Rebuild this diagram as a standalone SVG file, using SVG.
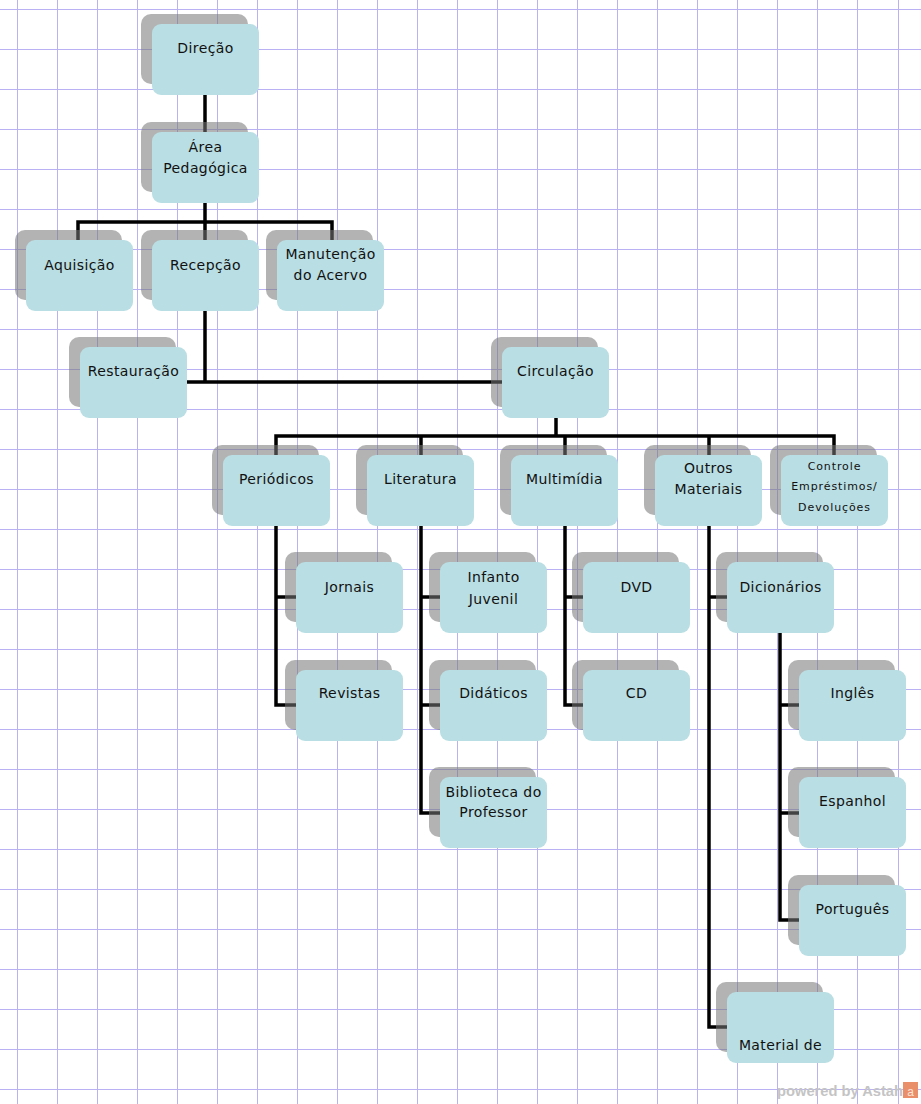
<svg xmlns="http://www.w3.org/2000/svg" width="921" height="1104" viewBox="0 0 921 1104">
<style>
.grid{stroke:#b9b1f4;stroke-width:1;fill:none}
.cn{stroke:#000;stroke-width:3.5;fill:none;stroke-linejoin:miter}
.sh{fill:#777;fill-opacity:0.56}
.bx{fill:#b9dee3}
text{font-family:"DejaVu Sans","Verdana",sans-serif;font-size:14px;letter-spacing:0.4px;fill:#111;text-anchor:middle}
.sm{font-size:11px;letter-spacing:0.9px}
.logo{font-family:"Liberation Sans",Arial,sans-serif;font-weight:bold;font-size:14px;fill:#c4c4c4;text-anchor:start;letter-spacing:0}
</style>
<rect x="0" y="0" width="921" height="1104" fill="#fff"/>
<g id="grid">
<path class="grid" d="M17.5 0V1104M57.5 0V1104M97.5 0V1104M137.5 0V1104M177.5 0V1104M217.5 0V1104M257.5 0V1104M297.5 0V1104M337.5 0V1104M377.5 0V1104M417.5 0V1104M457.5 0V1104M497.5 0V1104M537.5 0V1104M577.5 0V1104M617.5 0V1104M657.5 0V1104M697.5 0V1104M737.5 0V1104M777.5 0V1104M817.5 0V1104M857.5 0V1104M898.5 0V1104"/>
<path class="grid" d="M0 9.5H921M0 49.5H921M0 89.5H921M0 129.5H921M0 169.5H921M0 209.5H921M0 249.5H921M0 289.5H921M0 329.5H921M0 369.5H921M0 409.5H921M0 449.5H921M0 489.5H921M0 529.5H921M0 569.5H921M0 609.5H921M0 649.5H921M0 689.5H921M0 729.5H921M0 769.5H921M0 809.5H921M0 849.5H921M0 889.5H921M0 929.5H921M0 969.5H921M0 1009.5H921M0 1049.5H921M0 1089.5H921"/>
</g>
<g id="connectors">
<path class="cn" d="M205 95V132"/>
<path class="cn" d="M205 203V240M78 240V222H332V240"/>
<path class="cn" d="M205 311V382M187 382H502"/>
<path class="cn" d="M556 418V436M276 455V436H834V455M421 436V455M565 436V455M709 436V455"/>
<path class="cn" d="M276 526V705H296M276 597H296"/>
<path class="cn" d="M421 526V813H440M421 597H440M421 705H440"/>
<path class="cn" d="M565 526V705H583M565 597H583"/>
<path class="cn" d="M709 526V1027H727M709 597H727"/>
<path class="cn" d="M780 633V920H799M780 705H799M780 813H799"/>
</g>
<g id="direcao"><rect class="sh" x="141" y="14" width="107" height="70" rx="10"/><rect class="bx" x="152" y="24" width="107" height="71" rx="9"/><text x="205.5" y="53">Direção</text></g>
<g id="area-pedagogica"><rect class="sh" x="141" y="122" width="107" height="70" rx="10"/><rect class="bx" x="152" y="132" width="107" height="71" rx="9"/><text x="205.5" y="152">Área</text><text x="205.5" y="173">Pedagógica</text></g>
<g id="aquisicao"><rect class="sh" x="15" y="230" width="107" height="70" rx="10"/><rect class="bx" x="26" y="240" width="107" height="71" rx="9"/><text x="79.5" y="270">Aquisição</text></g>
<g id="recepcao"><rect class="sh" x="141" y="230" width="107" height="70" rx="10"/><rect class="bx" x="152" y="240" width="107" height="71" rx="9"/><text x="205.5" y="270">Recepção</text></g>
<g id="manutencao"><rect class="sh" x="266" y="230" width="107" height="70" rx="10"/><rect class="bx" x="277" y="240" width="107" height="71" rx="9"/><text x="330.5" y="259">Manutenção</text><text x="330.5" y="280">do Acervo</text></g>
<g id="restauracao"><rect class="sh" x="69" y="337" width="107" height="70" rx="10"/><rect class="bx" x="80" y="347" width="107" height="71" rx="9"/><text x="133.5" y="376">Restauração</text></g>
<g id="circulacao"><rect class="sh" x="491" y="337" width="107" height="70" rx="10"/><rect class="bx" x="502" y="347" width="107" height="71" rx="9"/><text x="555.5" y="376">Circulação</text></g>
<g id="periodicos"><rect class="sh" x="212" y="445" width="107" height="70" rx="10"/><rect class="bx" x="223" y="455" width="107" height="71" rx="9"/><text x="276.5" y="484">Periódicos</text></g>
<g id="literatura"><rect class="sh" x="356" y="445" width="107" height="70" rx="10"/><rect class="bx" x="367" y="455" width="107" height="71" rx="9"/><text x="420.5" y="484">Literatura</text></g>
<g id="multimidia"><rect class="sh" x="500" y="445" width="107" height="70" rx="10"/><rect class="bx" x="511" y="455" width="107" height="71" rx="9"/><text x="564.5" y="484">Multimídia</text></g>
<g id="outros-materiais"><rect class="sh" x="644" y="445" width="107" height="70" rx="10"/><rect class="bx" x="655" y="455" width="107" height="71" rx="9"/><text x="708.5" y="473">Outros</text><text x="708.5" y="494">Materiais</text></g>
<g id="controle"><rect class="sh" x="770" y="445" width="107" height="70" rx="10"/><rect class="bx" x="781" y="455" width="107" height="71" rx="9"/><text class="sm" x="834.5" y="469.5">Controle</text><text class="sm" x="834.5" y="490">Empréstimos/</text><text class="sm" x="834.5" y="511">Devoluções</text></g>
<g id="jornais"><rect class="sh" x="285" y="552" width="107" height="70" rx="10"/><rect class="bx" x="296" y="562" width="107" height="71" rx="9"/><text x="349.5" y="592">Jornais</text></g>
<g id="revistas"><rect class="sh" x="285" y="660" width="107" height="70" rx="10"/><rect class="bx" x="296" y="670" width="107" height="71" rx="9"/><text x="349.5" y="698">Revistas</text></g>
<g id="infanto-juvenil"><rect class="sh" x="429" y="552" width="107" height="70" rx="10"/><rect class="bx" x="440" y="562" width="107" height="71" rx="9"/><text x="493.5" y="582">Infanto</text><text x="493.5" y="604">Juvenil</text></g>
<g id="didaticos"><rect class="sh" x="429" y="660" width="107" height="70" rx="10"/><rect class="bx" x="440" y="670" width="107" height="71" rx="9"/><text x="493.5" y="698">Didáticos</text></g>
<g id="biblioteca"><rect class="sh" x="429" y="767" width="107" height="70" rx="10"/><rect class="bx" x="440" y="777" width="107" height="71" rx="9"/><text x="493.5" y="797">Biblioteca do</text><text x="493.5" y="817">Professor</text></g>
<g id="dvd"><rect class="sh" x="572" y="552" width="107" height="70" rx="10"/><rect class="bx" x="583" y="562" width="107" height="71" rx="9"/><text x="636.5" y="592">DVD</text></g>
<g id="cd"><rect class="sh" x="572" y="660" width="107" height="70" rx="10"/><rect class="bx" x="583" y="670" width="107" height="71" rx="9"/><text x="636.5" y="698">CD</text></g>
<g id="dicionarios"><rect class="sh" x="716" y="552" width="107" height="70" rx="10"/><rect class="bx" x="727" y="562" width="107" height="71" rx="9"/><text x="780.5" y="592">Dicionários</text></g>
<g id="ingles"><rect class="sh" x="788" y="660" width="107" height="70" rx="10"/><rect class="bx" x="799" y="670" width="107" height="71" rx="9"/><text x="852.5" y="698">Inglês</text></g>
<g id="espanhol"><rect class="sh" x="788" y="767" width="107" height="70" rx="10"/><rect class="bx" x="799" y="777" width="107" height="71" rx="9"/><text x="852.5" y="806">Espanhol</text></g>
<g id="portugues"><rect class="sh" x="788" y="875" width="107" height="70" rx="10"/><rect class="bx" x="799" y="885" width="107" height="71" rx="9"/><text x="852.5" y="914">Português</text></g>
<g id="material"><rect class="sh" x="716" y="982" width="107" height="70" rx="10"/><rect class="bx" x="727" y="992" width="107" height="71" rx="9"/><text x="780.5" y="1050">Material de</text></g>
<g id="watermark"><text class="logo" x="777" y="1096" textLength="126" lengthAdjust="spacingAndGlyphs">powered by Astah</text><rect x="903" y="1082" width="15" height="16" fill="#e9906a"/><text x="910.5" y="1096" style="font-family:'Liberation Sans',Arial,sans-serif;font-size:12px;fill:#fbe3d6;letter-spacing:0">a</text></g>
</svg>
